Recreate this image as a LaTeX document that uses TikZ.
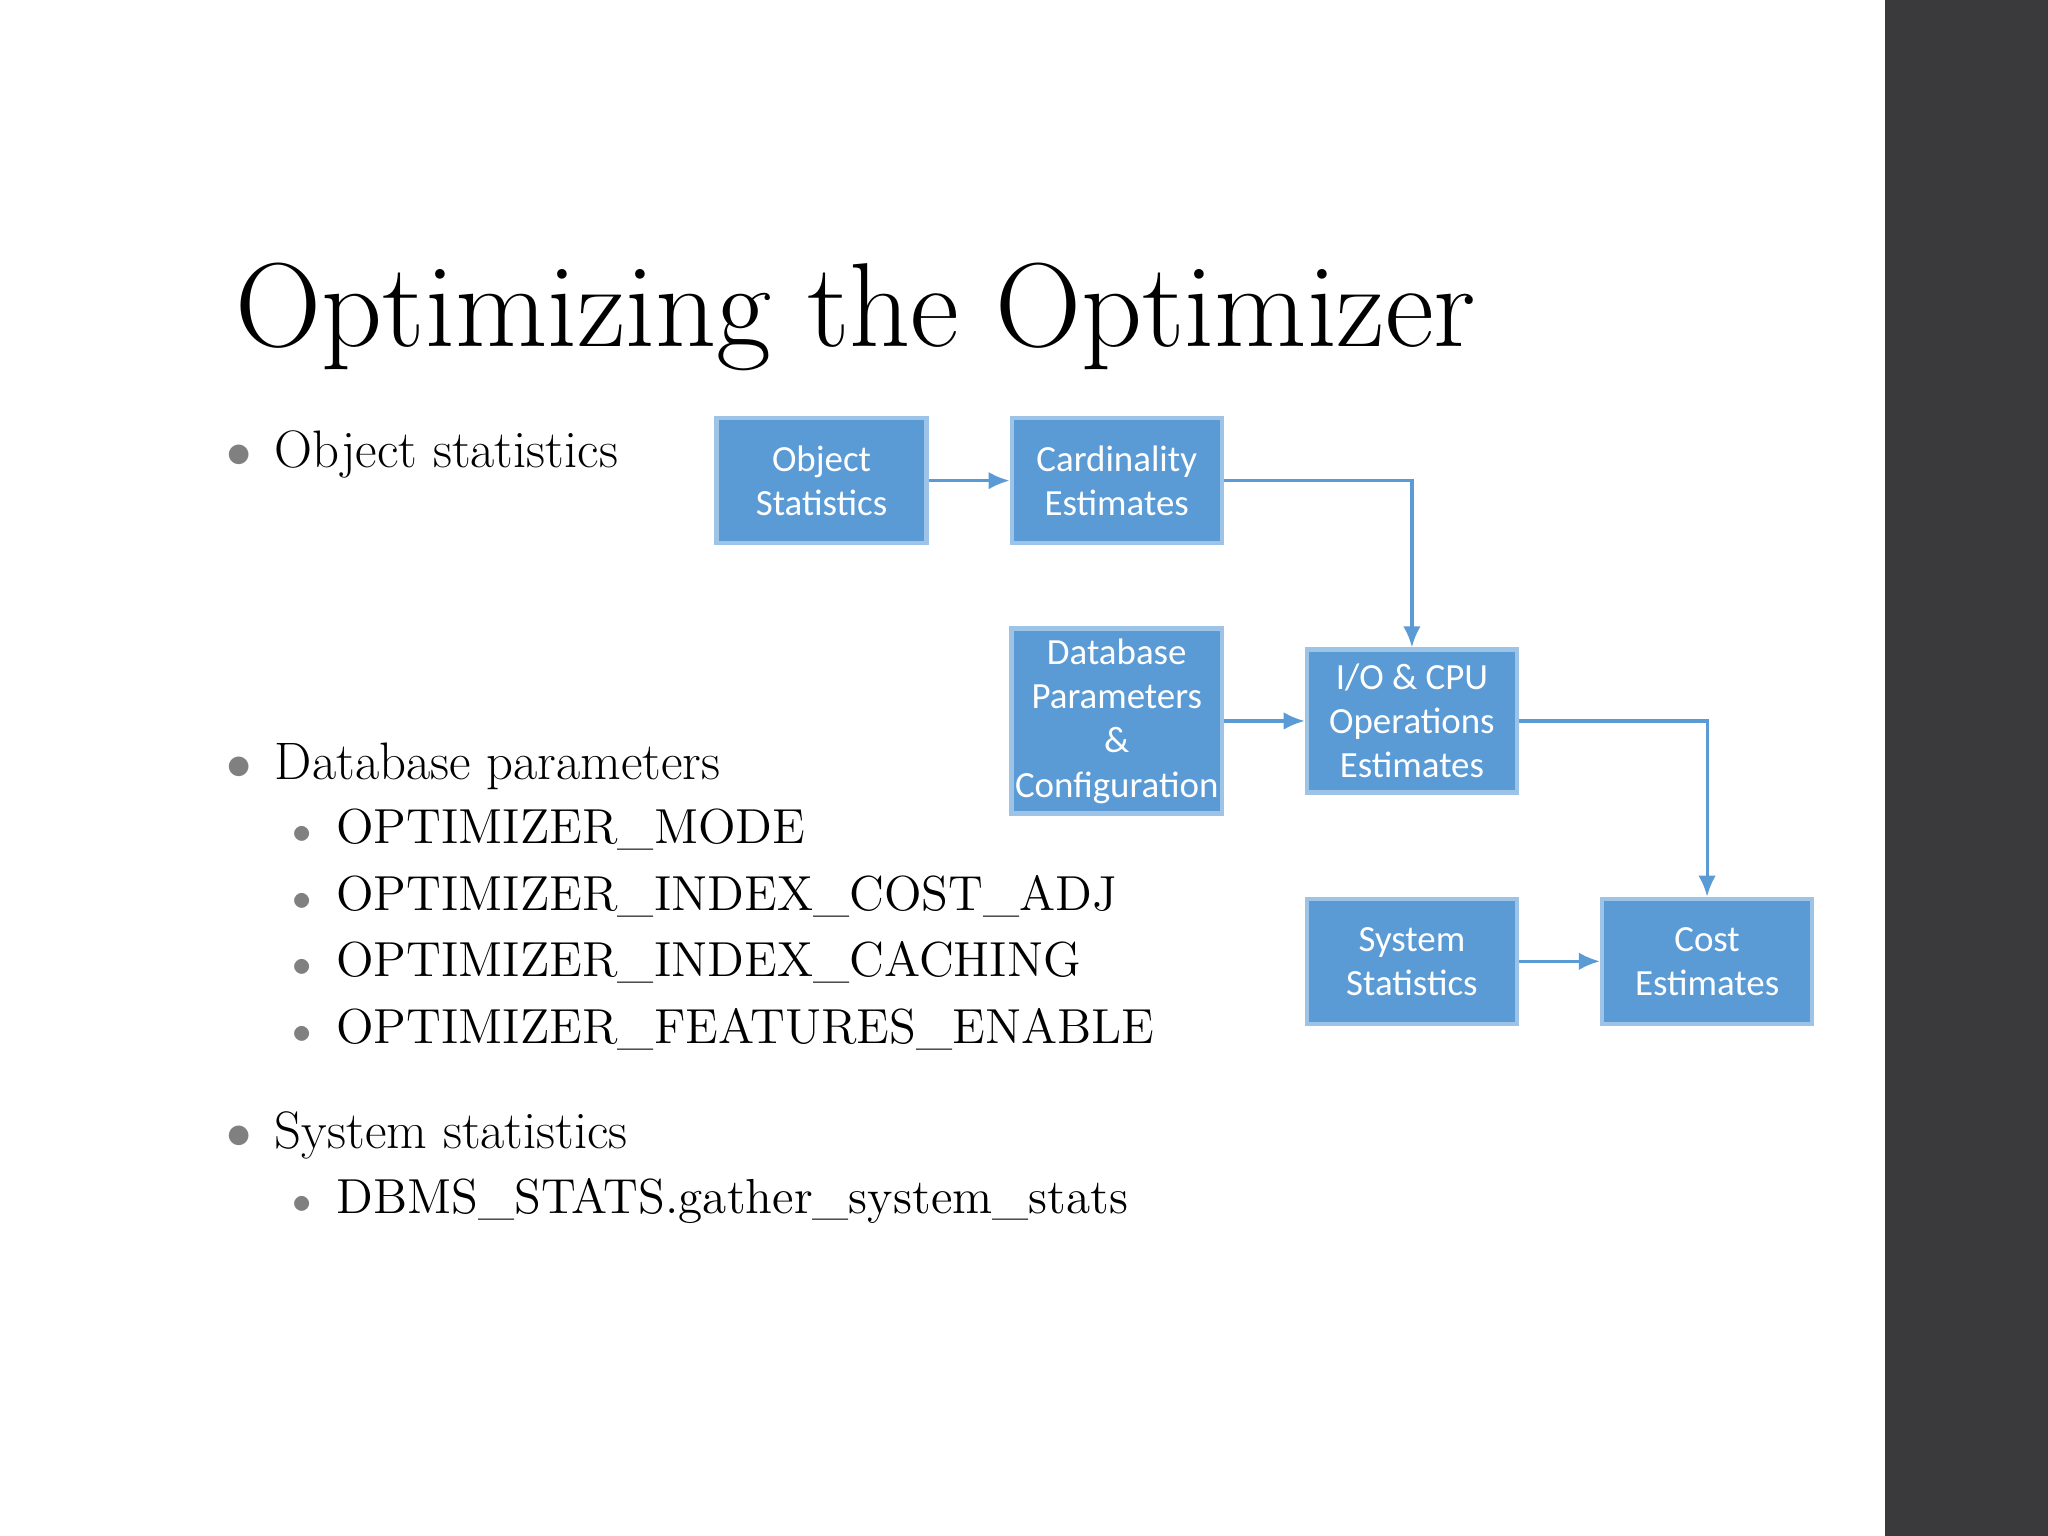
\documentclass[tikz,border=0pt]{standalone}
\usepackage{fontspec}
\newfontfamily\boxfont{Carlito}
\usetikzlibrary{arrows.meta}
\definecolor{boxblue}{HTML}{5B9BD5}
\definecolor{boxedge}{HTML}{9DC3E6}
\definecolor{sidebar}{HTML}{3A3A3C}
\tikzset{
  flowbox/.style={draw=boxedge,line width=1.2pt,fill=boxblue,text=white,
    minimum width=2.1cm,minimum height=1.25cm,inner sep=1pt,align=center,
    font=\boxfont\fontsize{10.5}{12.6}\selectfont},
  flow/.style={draw=boxblue,line width=0.9pt,-{Latex[length=6pt,width=5pt]}},
  item/.style={anchor=base west,inner sep=0pt,font=\fontsize{15}{18}\selectfont},
  subitem/.style={anchor=base west,inner sep=0pt,font=\fontsize{14}{17}\selectfont},
  dot/.style={anchor=base,inner sep=0pt,text=gray}
}
\begin{document}
\begin{tikzpicture}[x=0.013061cm,y=-0.013061cm]
    % page
    \fill[white] (0,0) rectangle (1568,1176);
    \fill[sidebar] (1443,0) rectangle (1568,1176);
    \useasboundingbox (0,0) rectangle (1568,1176);
    % title
    \node[anchor=base west,inner sep=0pt,font=\fontsize{34}{40}\selectfont] (title) at (180,265) {Optimizing the Optimizer};
    % bullets
    \node[item] (objstat) at (210,358) {Object statistics};
    \node[item] (dbpar) at (210,597) {Database parameters};
    \node[subitem] (mode) at (257,646) {OPTIMIZER\_MODE};
    \node[subitem] (adj) at (257,697) {OPTIMIZER\_INDEX\_COST\_ADJ};
    \node[subitem] (cach) at (257,748) {OPTIMIZER\_INDEX\_CACHING};
    \node[subitem] (feat) at (257,799) {OPTIMIZER\_FEATURES\_ENABLE};
    \node[item] (sysstat) at (210,879) {System statistics};
    \node[subitem] (gather) at (257,929) {DBMS\_STATS.gather\_system\_stats};
    \foreach \y in {358,597,879} { \node[dot,font=\fontsize{15}{18}\selectfont] at (183,\y) {$\bullet$}; }
    \foreach \y in {646,697,748,799,929} { \node[dot,font=\fontsize{11}{13}\selectfont] at (231,\y) {$\bullet$}; }
    % boxes
    \node[flowbox] (objbox) at (629,368) {Object\\Statistics};
    \node[flowbox] (cardbox) at (855,368) {Cardinality\\Estimates};
    \node[flowbox,minimum height=1.85cm] (dbbox) at (855,552) {Database\\Parameters\\\&\\Configuration};
    \node[flowbox,minimum height=1.43cm] (iobox) at (1081,552) {I/O \& CPU\\Operations\\Estimates};
    \node[flowbox] (sysbox) at (1081,736) {System\\Statistics};
    \node[flowbox] (costbox) at (1307,736) {Cost\\Estimates};
    % arrows
    \draw[flow] (objbox) -- (cardbox);
    \draw[flow] (cardbox.east) -| (iobox.north);
    \draw[flow] (dbbox.east |- iobox.west) -- (iobox.west);
    \draw[flow] (iobox.east) -| (costbox.north);
    \draw[flow] (sysbox) -- (costbox);
\end{tikzpicture}
\end{document}
